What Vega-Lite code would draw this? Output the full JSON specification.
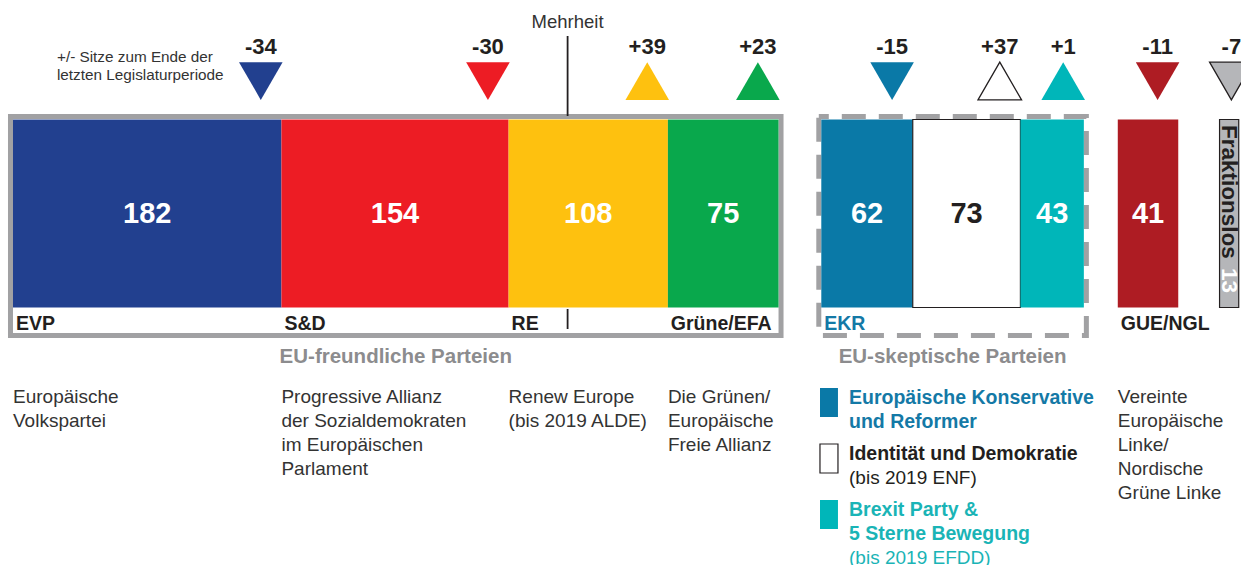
{
  "$schema": "https://vega.github.io/schema/vega-lite/v6.json",
  "width": 1241,
  "height": 565,
  "padding": 0,
  "autosize": {"type": "none"},
  "background": "white",
  "config": {"view": {"stroke": null}, "font": "Liberation Sans", "text": {"font": "Liberation Sans"}},
  "datasets": {
    "parties": [
      {"id": "EVP", "label": "EVP", "seats": 182, "change": -34, "group": "pro", "groupLabel": "EU-freundliche Parteien", "order": 1, "desc": ["Europäische", "Volkspartei"]},
      {"id": "S&D", "label": "S&D", "seats": 154, "change": -30, "group": "pro", "groupLabel": "EU-freundliche Parteien", "order": 2, "desc": ["Progressive Allianz", "der Sozialdemokraten", "im Europäischen", "Parlament"]},
      {"id": "RE", "label": "RE", "seats": 108, "change": 39, "group": "pro", "groupLabel": "EU-freundliche Parteien", "order": 3, "desc": ["Renew Europe", "(bis 2019 ALDE)"]},
      {"id": "Grüne/EFA", "label": "Grüne/EFA", "seats": 75, "change": 23, "group": "pro", "groupLabel": "EU-freundliche Parteien", "order": 4, "desc": ["Die Grünen/", "Europäische", "Freie Allianz"]},
      {"id": "EKR", "label": "EKR", "seats": 62, "change": -15, "group": "skeptic", "groupLabel": "EU-skeptische Parteien", "order": 5, "desc": []},
      {"id": "ID", "label": "", "seats": 73, "change": 37, "group": "skeptic", "groupLabel": "EU-skeptische Parteien", "order": 6, "desc": []},
      {"id": "EFDD", "label": "", "seats": 43, "change": 1, "group": "skeptic", "groupLabel": "EU-skeptische Parteien", "order": 7, "desc": []},
      {"id": "GUE/NGL", "label": "GUE/NGL", "seats": 41, "change": -11, "group": "left", "groupLabel": "", "order": 8, "desc": ["Vereinte", "Europäische", "Linke/", "Nordische", "Grüne Linke"]},
      {"id": "Fraktionslos", "label": "Fraktionslos", "seats": 13, "change": -7, "group": "none", "groupLabel": "", "order": 9, "desc": []}
    ],
    "legend": [
      {"id": "EKR", "kind": "name", "text": "Europäische Konservative"},
      {"id": "EKR", "kind": "name", "text": "und Reformer"},
      {"id": "ID", "kind": "name", "text": "Identität und Demokratie"},
      {"id": "ID", "kind": "note", "text": "(bis 2019 ENF)"},
      {"id": "EFDD", "kind": "name", "text": "Brexit Party &"},
      {"id": "EFDD", "kind": "name", "text": "5 Sterne Bewegung"},
      {"id": "EFDD", "kind": "note", "text": "(bis 2019 EFDD)"}
    ],
    "majority": [{"seats": 376, "label": "Mehrheit"}],
    "note": [{"t": "+/- Sitze zum Ende der"}, {"t": "letzten Legislaturperiode"}]
  },
  "layer": [
    {
      "data": {"name": "parties"},
      "transform": [
        {"window": [{"op": "sum", "field": "seats", "as": "cum"}], "sort": [{"field": "order"}], "frame": [null, 0]},
        {"calculate": "datum.group=='pro'?0:datum.group=='skeptic'?29:datum.group=='left'?52:80", "as": "off"},
        {"calculate": "datum.cum-datum.seats+datum.off", "as": "start"},
        {"calculate": "datum.cum+datum.off", "as": "end"}
      ],
      "layer": [
        {
          "transform": [
            {"filter": "datum.group=='pro'||datum.group=='skeptic'"},
            {"aggregate": [{"op": "min", "field": "start", "as": "s0"}, {"op": "max", "field": "end", "as": "s1"}], "groupby": ["group", "groupLabel"]},
            {"calculate": "datum.s0-1.7", "as": "b0"},
            {"calculate": "datum.s1+1.7", "as": "b1"},
            {"calculate": "(datum.s0+datum.s1)/2", "as": "gm"}
          ],
          "layer": [
            {
              "transform": [{"filter": "datum.group=='pro'"}],
              "mark": {"type": "rect", "fill": "#ffffff", "fillOpacity": 0, "stroke": "#a1a1a3", "strokeWidth": 5},
              "encoding": {
                "x": {"field": "b0", "type": "quantitative", "scale": {"domain": [-8.81, 832.54], "nice": false, "zero": false}, "axis": null},
                "x2": {"field": "b1"},
                "y": {"datum": 116.5, "type": "quantitative", "scale": {"domain": [0, 565], "reverse": true, "nice": false, "zero": false}, "axis": null},
                "y2": {"datum": 335.5}
              }
            },
            {
              "transform": [{"filter": "datum.group=='skeptic'"}],
              "mark": {"type": "rect", "fill": "#ffffff", "fillOpacity": 0, "stroke": "#a1a1a3", "strokeWidth": 5, "strokeDash": [24, 13], "strokeDashOffset": 14},
              "encoding": {
                "x": {"field": "b0", "type": "quantitative", "scale": {"domain": [-8.81, 832.54], "nice": false, "zero": false}, "axis": null},
                "x2": {"field": "b1"},
                "y": {"datum": 116.5, "type": "quantitative", "scale": {"domain": [0, 565], "reverse": true, "nice": false, "zero": false}, "axis": null},
                "y2": {"datum": 335.5}
              }
            },
            {
              "mark": {"type": "text", "fontSize": 20.5, "fontWeight": "bold", "color": "#8c8c8e", "align": "center", "baseline": "alphabetic"},
              "encoding": {
                "x": {"field": "gm", "type": "quantitative", "scale": {"domain": [-8.81, 832.54], "nice": false, "zero": false}, "axis": null},
                "y": {"datum": 363, "type": "quantitative", "scale": {"domain": [0, 565], "reverse": true, "nice": false, "zero": false}, "axis": null},
                "text": {"field": "groupLabel", "type": "nominal"}
              }
            }
          ]
        },
        {
          "mark": {"type": "rect"},
          "encoding": {
            "x": {"field": "start", "type": "quantitative", "scale": {"domain": [-8.81, 832.54], "nice": false, "zero": false}, "axis": null},
            "x2": {"field": "end"},
            "y": {"datum": 119.5, "type": "quantitative", "scale": {"domain": [0, 565], "reverse": true, "nice": false, "zero": false}, "axis": null},
            "y2": {"datum": 307.5},
            "fill": {"field": "id", "type": "nominal", "scale": {"domain": ["EVP", "S&D", "RE", "Grüne/EFA", "EKR", "ID", "EFDD", "GUE/NGL", "Fraktionslos"], "range": ["#22408f", "#ed1c24", "#fec10f", "#09a84c", "#0a79a7", "#ffffff", "#00b6b9", "#ae1c23", "#b5b6b9"]}, "legend": null},
            "stroke": {"condition": {"test": "datum.id=='ID'||datum.id=='Fraktionslos'", "value": "#231f20"}, "value": "transparent"},
            "strokeWidth": {"value": 1.2}
          }
        },
        {
          "transform": [{"filter": "datum.id!='Fraktionslos'"}, {"calculate": "(datum.start+datum.end)/2", "as": "mid"}],
          "mark": {"type": "text", "fontSize": 29, "fontWeight": "bold", "align": "center", "baseline": "middle"},
          "encoding": {
            "x": {"field": "mid", "type": "quantitative", "scale": {"domain": [-8.81, 832.54], "nice": false, "zero": false}, "axis": null},
            "y": {"datum": 214, "type": "quantitative", "scale": {"domain": [0, 565], "reverse": true, "nice": false, "zero": false}, "axis": null},
            "text": {"field": "seats", "type": "nominal"},
            "color": {"condition": {"test": "datum.id=='ID'", "value": "#231f20"}, "value": "#ffffff"}
          }
        },
        {
          "transform": [{"filter": "datum.label!='' && datum.id!='Fraktionslos'"}, {"calculate": "datum.start+2", "as": "lx"}],
          "mark": {"type": "text", "fontSize": 19.5, "fontWeight": "bold", "align": "left", "baseline": "alphabetic"},
          "encoding": {
            "x": {"field": "lx", "type": "quantitative", "scale": {"domain": [-8.81, 832.54], "nice": false, "zero": false}, "axis": null},
            "y": {"datum": 330, "type": "quantitative", "scale": {"domain": [0, 565], "reverse": true, "nice": false, "zero": false}, "axis": null},
            "text": {"field": "label", "type": "nominal"},
            "color": {"condition": {"test": "datum.id=='EKR'", "value": "#1479a6"}, "value": "#231f20"}
          }
        },
        {
          "transform": [{"calculate": "max(datum.end-14, datum.start+8)", "as": "tx"}],
          "mark": {"type": "point", "filled": true, "size": 1900, "opacity": 1},
          "encoding": {
            "x": {"field": "tx", "type": "quantitative", "scale": {"domain": [-8.81, 832.54], "nice": false, "zero": false}, "axis": null},
            "y": {"datum": 81, "type": "quantitative", "scale": {"domain": [0, 565], "reverse": true, "nice": false, "zero": false}, "axis": null},
            "shape": {"condition": {"test": "datum.change<0", "value": "triangle-down"}, "value": "triangle-up"},
            "fill": {"field": "id", "type": "nominal", "scale": {"domain": ["EVP", "S&D", "RE", "Grüne/EFA", "EKR", "ID", "EFDD", "GUE/NGL", "Fraktionslos"], "range": ["#22408f", "#ed1c24", "#fec10f", "#09a84c", "#0a79a7", "#ffffff", "#00b6b9", "#ae1c23", "#b5b6b9"]}, "legend": null},
            "stroke": {"condition": {"test": "datum.id=='ID'||datum.id=='Fraktionslos'", "value": "#231f20"}, "value": "transparent"},
            "strokeWidth": {"value": 1.3}
          }
        },
        {
          "transform": [{"calculate": "max(datum.end-14, datum.start+8)", "as": "tx"}, {"calculate": "(datum.change>0?'+':'')+datum.change", "as": "cl"}],
          "mark": {"type": "text", "fontSize": 22, "fontWeight": "bold", "align": "center", "baseline": "alphabetic", "color": "#231f20"},
          "encoding": {
            "x": {"field": "tx", "type": "quantitative", "scale": {"domain": [-8.81, 832.54], "nice": false, "zero": false}, "axis": null},
            "y": {"datum": 54, "type": "quantitative", "scale": {"domain": [0, 565], "reverse": true, "nice": false, "zero": false}, "axis": null},
            "text": {"field": "cl", "type": "nominal"}
          }
        },
        {
          "transform": [{"filter": "datum.id=='Fraktionslos'"}, {"calculate": "(datum.start+datum.end)/2", "as": "mid"}],
          "layer": [
            {
              "mark": {"type": "text", "angle": 90, "fontSize": 22.5, "fontWeight": "bold", "align": "left", "baseline": "middle", "color": "#231f20"},
              "encoding": {
                "x": {"field": "mid", "type": "quantitative", "scale": {"domain": [-8.81, 832.54], "nice": false, "zero": false}, "axis": null},
                "y": {"datum": 125, "type": "quantitative", "scale": {"domain": [0, 565], "reverse": true, "nice": false, "zero": false}, "axis": null},
                "text": {"field": "label", "type": "nominal"}
              }
            },
            {
              "mark": {"type": "text", "angle": 90, "fontSize": 22.5, "fontWeight": "bold", "align": "left", "baseline": "middle", "color": "#ffffff"},
              "encoding": {
                "x": {"field": "mid", "type": "quantitative", "scale": {"domain": [-8.81, 832.54], "nice": false, "zero": false}, "axis": null},
                "y": {"datum": 268, "type": "quantitative", "scale": {"domain": [0, 565], "reverse": true, "nice": false, "zero": false}, "axis": null},
                "text": {"field": "seats", "type": "nominal"}
              }
            }
          ]
        },
        {
          "transform": [
            {"flatten": ["desc"], "as": ["line"]},
            {"window": [{"op": "row_number", "as": "ln"}], "groupby": ["id"]},
            {"calculate": "397+24*(datum.ln-1)", "as": "ly"}
          ],
          "mark": {"type": "text", "fontSize": 19, "align": "left", "baseline": "middle", "color": "#333333"},
          "encoding": {
            "x": {"field": "start", "type": "quantitative", "scale": {"domain": [-8.81, 832.54], "nice": false, "zero": false}, "axis": null},
            "y": {"field": "ly", "type": "quantitative", "scale": {"domain": [0, 565], "reverse": true, "nice": false, "zero": false}, "axis": null},
            "text": {"field": "line", "type": "nominal"}
          }
        }
      ]
    },
    {
      "data": {"name": "majority"},
      "layer": [
        {
          "mark": {"type": "rule", "color": "#231f20", "strokeWidth": 1.8},
          "encoding": {
            "x": {"field": "seats", "type": "quantitative", "scale": {"domain": [-8.81, 832.54], "nice": false, "zero": false}, "axis": null},
            "y": {"datum": 36, "type": "quantitative", "scale": {"domain": [0, 565], "reverse": true, "nice": false, "zero": false}, "axis": null},
            "y2": {"datum": 116}
          }
        },
        {
          "mark": {"type": "rule", "color": "#231f20", "strokeWidth": 1.8},
          "encoding": {
            "x": {"field": "seats", "type": "quantitative", "scale": {"domain": [-8.81, 832.54], "nice": false, "zero": false}, "axis": null},
            "y": {"datum": 309, "type": "quantitative", "scale": {"domain": [0, 565], "reverse": true, "nice": false, "zero": false}, "axis": null},
            "y2": {"datum": 329}
          }
        },
        {
          "mark": {"type": "text", "fontSize": 18.5, "align": "center", "baseline": "alphabetic", "color": "#333333"},
          "encoding": {
            "x": {"field": "seats", "type": "quantitative", "scale": {"domain": [-8.81, 832.54], "nice": false, "zero": false}, "axis": null},
            "y": {"datum": 28, "type": "quantitative", "scale": {"domain": [0, 565], "reverse": true, "nice": false, "zero": false}, "axis": null},
            "text": {"field": "label", "type": "nominal"}
          }
        }
      ]
    },
    {
      "data": {"name": "note"},
      "transform": [{"window": [{"op": "row_number", "as": "rn"}]}, {"calculate": "57+18*(datum.rn-1)", "as": "ny"}],
      "mark": {"type": "text", "fontSize": 15.3, "align": "left", "baseline": "middle", "color": "#333333"},
      "encoding": {
        "x": {"datum": 29.8, "type": "quantitative", "scale": {"domain": [-8.81, 832.54], "nice": false, "zero": false}, "axis": null},
        "y": {"field": "ny", "type": "quantitative", "scale": {"domain": [0, 565], "reverse": true, "nice": false, "zero": false}, "axis": null},
        "text": {"field": "t", "type": "nominal"}
      }
    },
    {
      "data": {"name": "legend"},
      "transform": [
        {"window": [{"op": "row_number", "as": "rn"}]},
        {"joinaggregate": [{"op": "min", "field": "rn", "as": "first"}], "groupby": ["id"]},
        {"window": [{"op": "dense_rank", "as": "blk"}], "sort": [{"field": "first"}]},
        {"calculate": "398+24*(datum.rn-1)+8*(datum.blk-1)", "as": "ly"}
      ],
      "layer": [
        {
          "transform": [{"filter": "datum.rn==datum.first"}, {"calculate": "datum.ly-10", "as": "sy0"}, {"calculate": "datum.ly+19", "as": "sy1"}],
          "mark": {"type": "rect"},
          "encoding": {
            "x": {"datum": 547.1, "type": "quantitative", "scale": {"domain": [-8.81, 832.54], "nice": false, "zero": false}, "axis": null},
            "x2": {"datum": 559.3},
            "y": {"field": "sy0", "type": "quantitative", "scale": {"domain": [0, 565], "reverse": true, "nice": false, "zero": false}, "axis": null},
            "y2": {"field": "sy1"},
            "fill": {"field": "id", "type": "nominal", "scale": {"domain": ["EVP", "S&D", "RE", "Grüne/EFA", "EKR", "ID", "EFDD", "GUE/NGL", "Fraktionslos"], "range": ["#22408f", "#ed1c24", "#fec10f", "#09a84c", "#0a79a7", "#ffffff", "#00b6b9", "#ae1c23", "#b5b6b9"]}, "legend": null},
            "stroke": {"condition": {"test": "datum.id=='ID'", "value": "#231f20"}, "value": "transparent"},
            "strokeWidth": {"value": 1.2}
          }
        },
        {
          "transform": [{"filter": "datum.kind=='name'"}],
          "mark": {"type": "text", "fontSize": 19.5, "fontWeight": "bold", "align": "left", "baseline": "middle"},
          "encoding": {
            "x": {"datum": 566.8, "type": "quantitative", "scale": {"domain": [-8.81, 832.54], "nice": false, "zero": false}, "axis": null},
            "y": {"field": "ly", "type": "quantitative", "scale": {"domain": [0, 565], "reverse": true, "nice": false, "zero": false}, "axis": null},
            "text": {"field": "text", "type": "nominal"},
            "color": {"field": "id", "type": "nominal", "scale": {"domain": ["EKR", "ID", "EFDD"], "range": ["#1479a6", "#231f20", "#1ab4b6"]}, "legend": null}
          }
        },
        {
          "transform": [{"filter": "datum.kind=='note'"}],
          "mark": {"type": "text", "fontSize": 19, "align": "left", "baseline": "middle"},
          "encoding": {
            "x": {"datum": 566.8, "type": "quantitative", "scale": {"domain": [-8.81, 832.54], "nice": false, "zero": false}, "axis": null},
            "y": {"field": "ly", "type": "quantitative", "scale": {"domain": [0, 565], "reverse": true, "nice": false, "zero": false}, "axis": null},
            "text": {"field": "text", "type": "nominal"},
            "color": {"field": "id", "type": "nominal", "scale": {"domain": ["EKR", "ID", "EFDD"], "range": ["#1479a6", "#231f20", "#1ab4b6"]}, "legend": null}
          }
        }
      ]
    }
  ]
}
